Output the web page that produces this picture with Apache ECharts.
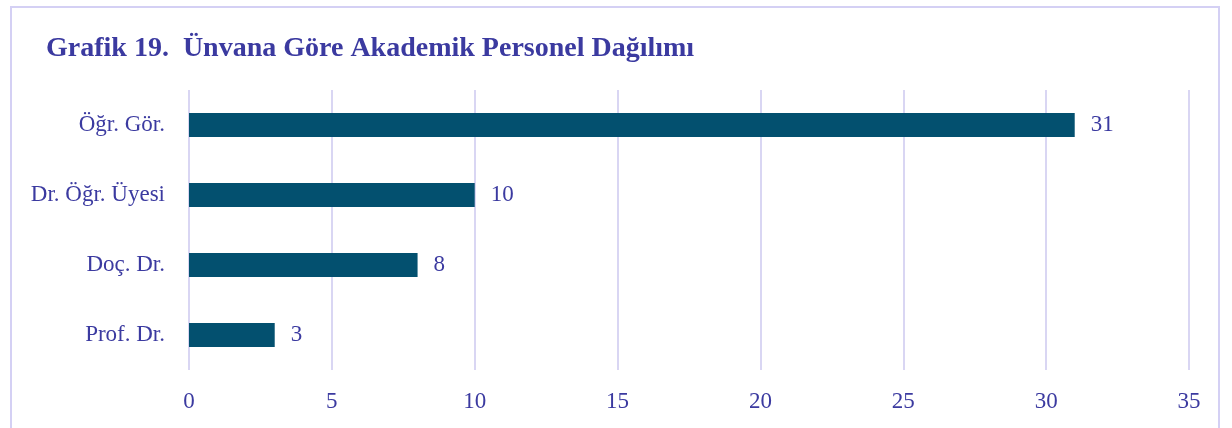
<!DOCTYPE html>
<html>
<head>
<meta charset="utf-8">
<script src="https://cdn.jsdelivr.net/npm/echarts@6/dist/echarts.min.js"></script>
<style>
  body { margin: 0; background: #fff; }
  #frame {
    position: absolute; left: 10px; top: 6px; width: 1210px; height: 440px;
    border: 2px solid #d4d0f4; box-sizing: border-box;
  }
  #chart { position: absolute; left: 0; top: 0; width: 1232px; height: 428px; }
</style>
</head>
<body>
<div id="frame"></div>
<div id="chart"></div>
<script>
const titles = ["Öğr. Gör.", "Dr. Öğr. Üyesi", "Doç. Dr.", "Prof. Dr."];
const counts = [31, 10, 8, 3];

const textColor = "#3b3aa0";
const font = "Liberation Serif";

const chart = echarts.init(document.getElementById("chart"));
chart.setOption({
  animation: false,
  title: {
    text: "Grafik 19.  Ünvana Göre Akademik Personel Dağılımı",
    left: 41,
    top: 30,
    textStyle: { fontFamily: font, fontSize: 28, fontWeight: "bold", color: textColor }
  },
  grid: { left: 189, right: 43, top: 90, bottom: 58 },
  xAxis: {
    type: "value",
    min: 0,
    max: 35,
    interval: 5,
    axisLine: { show: false },
    axisTick: { show: false },
    splitLine: { lineStyle: { color: "#d9d6f3", width: 2 } },
    axisLabel: { fontFamily: font, fontSize: 23, color: textColor, margin: 20 }
  },
  yAxis: {
    type: "category",
    inverse: true,
    data: titles,
    axisLine: { show: false },
    axisTick: { show: false },
    axisLabel: { fontFamily: font, fontSize: 23, color: textColor, margin: 24 }
  },
  series: [{
    type: "bar",
    data: counts,
    barWidth: 24,
    itemStyle: { color: "#03506f" },
    label: {
      show: true,
      position: "right",
      distance: 16,
      fontFamily: font,
      fontSize: 23,
      color: textColor
    }
  }]
});
</script>
</body>
</html>
